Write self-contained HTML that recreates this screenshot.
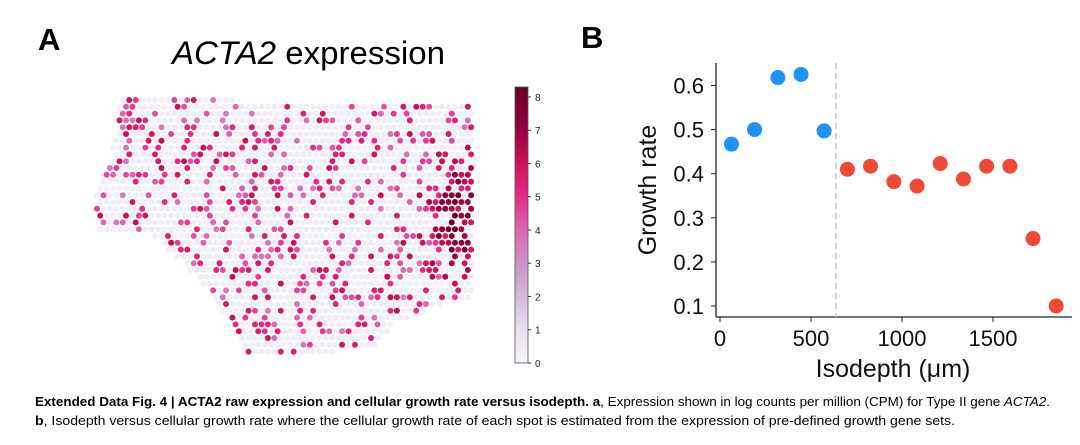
<!DOCTYPE html>
<html><head><meta charset="utf-8"><style>
html,body{margin:0;padding:0;background:#fff;}
svg{display:block;font-family:"Liberation Sans",sans-serif;}
</style></head><body>
<svg id="fig" width="1080" height="445" viewBox="0 0 1080 445">
<text x="38" y="50" font-size="31" font-weight="bold">A</text>
<text x="172" y="64" font-size="32" textLength="273" lengthAdjust="spacingAndGlyphs"><tspan font-style="italic">ACTA2</tspan> expression</text>
<g id="spots"></g>
<g id="cbar"></g>
<text x="581" y="48" font-size="31" font-weight="bold">B</text>
<g id="scatter"></g>
<text x="35" y="406" font-size="12.5" textLength="1015" lengthAdjust="spacingAndGlyphs"><tspan font-weight="bold">Extended Data Fig. 4 | ACTA2 raw expression and cellular growth rate versus isodepth. a</tspan>, Expression shown in log counts per million (CPM) for Type II gene <tspan font-style="italic">ACTA2</tspan>.</text>
<text x="35" y="425" font-size="12.5" textLength="920" lengthAdjust="spacingAndGlyphs"><tspan font-weight="bold">b</tspan>, Isodepth versus cellular growth rate where the cellular growth rate of each spot is estimated from the expression of pre-defined growth gene sets.</text>
</svg>
<script>
const NS="http://www.w3.org/2000/svg";
// ---- scatter data ----
const blueX=[63,190,318,445,572];
const blueY=[0.467,0.500,0.618,0.625,0.497];
const redX=[700,827,955,1083,1210,1338,1465,1593,1720,1847];
const redY=[0.410,0.417,0.382,0.372,0.423,0.388,0.417,0.417,0.253,0.100];
const xTicks=[0,500,1000,1500];
const yTicks=[0.1,0.2,0.3,0.4,0.5,0.6];
const cutX=636;
// colorbar ticks
const cbTicks=[0,1,2,3,4,5,6,7,8];

function el(t,a,p){const e=document.createElementNS(NS,t);for(const k in a)e.setAttribute(k,a[k]);p.appendChild(e);return e;}
const sx=v=>720+v*(91/500);
const sy=v=>306-(v-0.1)*441;
const sc=document.getElementById('scatter');
let ax=el('line',{x1:716,y1:63,x2:716,y2:317,stroke:'#222','stroke-width':1.3},sc);


ax=el('line',{x1:716,y1:317,x2:1072,y2:317,stroke:'#222','stroke-width':1.3},sc);


yTicks.forEach(v=>{
  el('line',{x1:711,y1:sy(v),x2:716,y2:sy(v),stroke:'#222'},sc);
  const t=el('text',{x:704,y:sy(v)+8,'font-size':22,'text-anchor':'end',fill:'#111'},sc);
  t.textContent=v.toFixed(1);
  
  
});
xTicks.forEach(v=>{
  el('line',{x1:sx(v),y1:317,x2:sx(v),y2:322,stroke:'#222'},sc);
  const t=el('text',{x:sx(v),y:346,'font-size':22,'text-anchor':'middle',fill:'#111'},sc);
  t.textContent=v;
  
  
});
const dl=el('line',{x1:sx(cutX),y1:63,x2:sx(cutX),y2:317,stroke:'#c8c8c8','stroke-width':1.5,'stroke-dasharray':'6,4'},sc);


blueX.forEach((x,i)=>{const c=el('circle',{cx:sx(x),cy:sy(blueY[i]),r:7.5,fill:'#2191f5'},sc);
  
  });
redX.forEach((x,i)=>{const c=el('circle',{cx:sx(x),cy:sy(redY[i]),r:7.5,fill:'#ef4a38'},sc);
  
  });
let t=el('text',{x:0,y:0,'font-size':25,'text-anchor':'middle',transform:'translate(656,190) rotate(-90)',fill:'#111'},sc);
t.textContent='Growth rate';


t=el('text',{x:893,y:377,'font-size':25,'text-anchor':'middle',fill:'#111'},sc);
t.textContent='Isodepth (μm)';



// ---- colormap ----
const stops=[[0,[247,244,249]],[1,[231,225,239]],[2,[212,185,218]],[3,[201,148,199]],[4,[223,101,176]],[5,[231,41,138]],[6,[206,18,86]],[7,[152,0,67]],[8.3,[103,0,31]]];
function cmap(v){for(let i=1;i<stops.length;i++){if(v<=stops[i][0]){const a=stops[i-1],b=stops[i],f=(v-a[0])/(b[0]-a[0]);return 'rgb('+a[1].map((c,j)=>Math.round(c+(b[1][j]-c)*f)).join(',')+')';}}return 'rgb(103,0,31)';}
const cb=document.getElementById('cbar');
const defs=el('defs',{},cb);
const lg=el('linearGradient',{id:'cg',x1:0,y1:1,x2:0,y2:0},defs);
stops.forEach(s=>el('stop',{offset:s[0]/8.3,'stop-color':cmap(s[0])},lg));
const cbTop=87,cbBot=363,cbv=v=>cbBot-(v/8.3)*(cbBot-cbTop);
el('rect',{x:515,y:cbTop,width:13,height:cbBot-cbTop,fill:'url(#cg)',stroke:'#555','stroke-width':0.8},cb);
cbTicks.forEach(v=>{el('line',{x1:528,y1:cbv(v),x2:531,y2:cbv(v),stroke:'#333'},cb);
  const tt=el('text',{x:535,y:cbv(v)+4,'font-size':10,fill:'#222'},cb);tt.textContent=v;
  
  });

// ---- spatial spots ----
const poly=[[118,98],[232,98],[250,104],[472,104],[473,297],[440,305],[395,325],[370,350],[245,356],[228,320],[198,278],[168,250],[150,232],[100,236],[95,200],[110,160],[118,125]];
function inside(x,y){let c=false;for(let i=0,j=poly.length-1;i<poly.length;j=i++){const a=poly[i],b=poly[j];if((a[1]>y)!=(b[1]>y)&&x<(b[0]-a[0])*(y-a[1])/(b[1]-a[1])+a[0])c=!c;}return c;}
function h(i,j){let n=(i*374761393+j*668265263)>>>0;n=(n^(n>>>13))*1274126177>>>0;return ((n^(n>>>16))>>>0)/4294967296;}
const sp=document.getElementById('spots');
for(let r=0;r<38;r++){const y=100+r*6.8;for(let c=0;c<62;c++){const x=97+c*6.45+(r%2?3.2:0);
  if(!inside(x,y))continue;
  const u=h(r,c),w=h(c+7,r+3);
  const hot=Math.exp(-((x-455)**2)/600-((y-215)**2)/3000);
  let v=0;
  if(u<0.28+0.55*hot)v=3.5+w*2.7+hot*2.5;
  const s=el('circle',{cx:x,cy:y,r:3.0,fill:v?cmap(v):'#f0eef6'},sp);
  
  
}}
</script>
</body></html>
